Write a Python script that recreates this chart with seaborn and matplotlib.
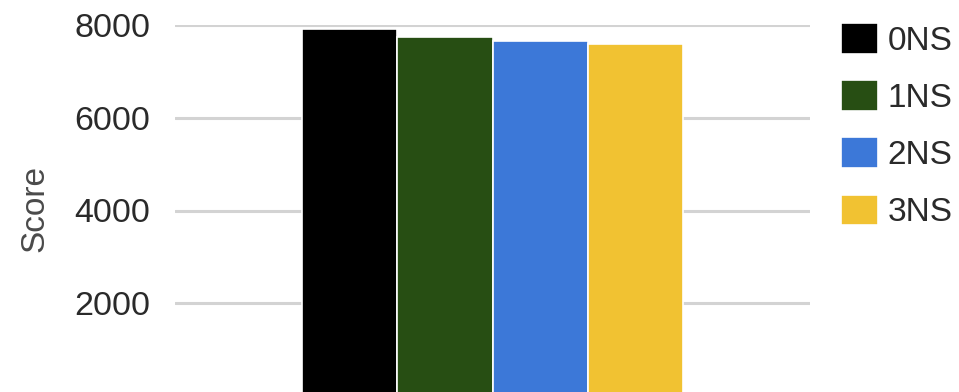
import matplotlib
matplotlib.use("Agg")
import matplotlib.pyplot as plt
import seaborn as sns
import pandas as pd

series = ["0NS", "1NS", "2NS", "3NS"]
scores = [7905, 7735, 7660, 7590]
colors = ["#000000", "#274e13", "#3c78d8", "#f1c232"]
yticks = [2000, 4000, 6000, 8000]
category = ["All"] * len(series)

sns.set_theme(style="white")
plt.rcParams["font.family"] = ["Liberation Sans", "DejaVu Sans"]

df = pd.DataFrame({"cat": category, "series": series, "Score": scores})

fig = plt.figure(figsize=(9.59, 3.92), dpi=100)
ax = fig.add_axes([175/959, -4/392, 635/959, 371/392])

sns.barplot(data=df, x="cat", y="Score", hue="series", hue_order=series,
            palette=colors, saturation=1, width=0.6, edgecolor="white",
            linewidth=1.2, ax=ax, legend=True)

ax.set_xlim(-0.5, 0.5)
ax.set_ylim(0, 8000)
ax.set_yticks(yticks)
ax.set_yticklabels([str(t) for t in yticks])
ax.tick_params(axis="y", length=0, pad=18, labelsize=24.5, labelcolor="#2a2a2a")
ax.set_xticks([])
ax.set_xlabel("")
for s in ax.spines.values():
    s.set_visible(False)
ax.set_axisbelow(True)
ax.yaxis.grid(True, color="#d3d3d3", linewidth=2.2)

ax.set_ylabel("Score", fontsize=24, color="#4a4a4a")
ax.yaxis.set_label_coords(-0.196, 0.505)

handles, labels = ax.get_legend_handles_labels()
ax.legend_.remove()
fig.legend(handles, labels, loc="upper left", bbox_to_anchor=(841/959, 1 - 23/392),
           frameon=False, fontsize=24, handlelength=1.1, handleheight=1.05,
           handletextpad=0.3, labelspacing=0.7, borderpad=0, borderaxespad=0,
           labelcolor="#2a2a2a")

fig.savefig("out.png", dpi=100)
